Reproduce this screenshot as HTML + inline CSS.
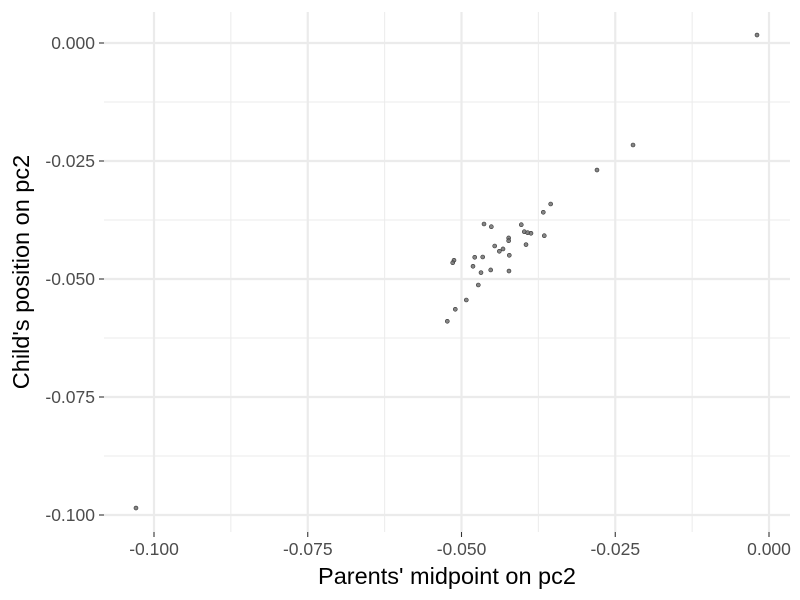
<!DOCTYPE html>
<html><head><meta charset="utf-8"><style>body{margin:0;background:#fff}svg{display:block}</style></head>
<body>
<svg id="chart" width="800" height="600" xmlns="http://www.w3.org/2000/svg" font-family="Liberation Sans, sans-serif">
<g id="grid"></g>
<g id="points"></g>
<g id="axes"></g>
<text x="447" y="584" text-anchor="middle" font-size="23.5" fill="#000">Parents' midpoint on pc2</text>
<text transform="translate(29,272) rotate(-90)" text-anchor="middle" font-size="23.5" fill="#000">Child's position on pc2</text>
</svg>
<script>
const xValues=[-0.03550,-0.03670,-0.04634,-0.04515,-0.04028,-0.03979,-0.03924,-0.03870,-0.03654,-0.04233,-0.04233,-0.03951,-0.04460,-0.04325,-0.04385,-0.04223,-0.04785,-0.04655,-0.05122,-0.05143,-0.04813,-0.04525,-0.04683,-0.04228,-0.04727,-0.04922,-0.05101,-0.05231,-0.02797,-0.02211,-0.00195,-0.10293];
const yValues=[-0.03411,-0.03587,-0.03835,-0.03892,-0.03850,-0.03998,-0.04019,-0.04032,-0.04083,-0.04131,-0.04189,-0.04273,-0.04301,-0.04364,-0.04413,-0.04498,-0.04540,-0.04534,-0.04604,-0.04655,-0.04731,-0.04809,-0.04866,-0.04831,-0.05127,-0.05445,-0.05642,-0.05896,-0.02691,-0.02161,0.00169,-0.09852];
const xTicks=[-0.100,-0.075,-0.050,-0.025,0.000];
const yTicks=[0.000,-0.025,-0.050,-0.075,-0.100];
const xTickLabels=["-0.100","-0.075","-0.050","-0.025","0.000"];
const yTickLabels=["0.000","-0.025","-0.050","-0.075","-0.100"];
const NS="http://www.w3.org/2000/svg";
const sx=v=>769+v*6150, sy=v=>43-v*4720;
const L=104,R=790,T=12,B=532;
function mk(parent,tag,attrs){const e=document.createElementNS(NS,tag);for(const k in attrs)e.setAttribute(k,attrs[k]);document.getElementById(parent).appendChild(e);return e;}
for(let i=0;i<xTicks.length-1;i++){const m=(xTicks[i]+xTicks[i+1])/2;
const l=mk('grid','line',{x1:sx(m),x2:sx(m),y1:T,y2:B,stroke:'#ebebeb','stroke-width':1});

}
for(let i=0;i<yTicks.length-1;i++){const m=(yTicks[i]+yTicks[i+1])/2;
const l=mk('grid','line',{x1:L,x2:R,y1:sy(m),y2:sy(m),stroke:'#ebebeb','stroke-width':1});

}
xTicks.forEach((v,i)=>{
const l=mk('grid','line',{x1:sx(v),x2:sx(v),y1:T,y2:B,stroke:'#ebebeb','stroke-width':2.2});


const t=mk('axes','line',{x1:sx(v),x2:sx(v),y1:B,y2:B+5,stroke:'#333','stroke-width':1.1});


const tx=mk('axes','text',{x:sx(v),y:B+23,'text-anchor':'middle','font-size':17.5,fill:'#4d4d4d'});
tx.textContent=xTickLabels[i];


});
yTicks.forEach((v,i)=>{
const l=mk('grid','line',{x1:L,x2:R,y1:sy(v),y2:sy(v),stroke:'#ebebeb','stroke-width':2.2});


const t=mk('axes','line',{x1:L-5,x2:L,y1:sy(v),y2:sy(v),stroke:'#333','stroke-width':1.1});


const tx=mk('axes','text',{x:L-9,y:sy(v)+6,'text-anchor':'end','font-size':17.5,fill:'#4d4d4d'});
tx.textContent=yTickLabels[i];


});
xValues.forEach((v,i)=>{
const c=mk('points','circle',{cx:sx(v),cy:sy(yValues[i]),r:2,fill:'#666','fill-opacity':0.8,stroke:'#333','stroke-width':0.6});


});
</script>
</body></html>
